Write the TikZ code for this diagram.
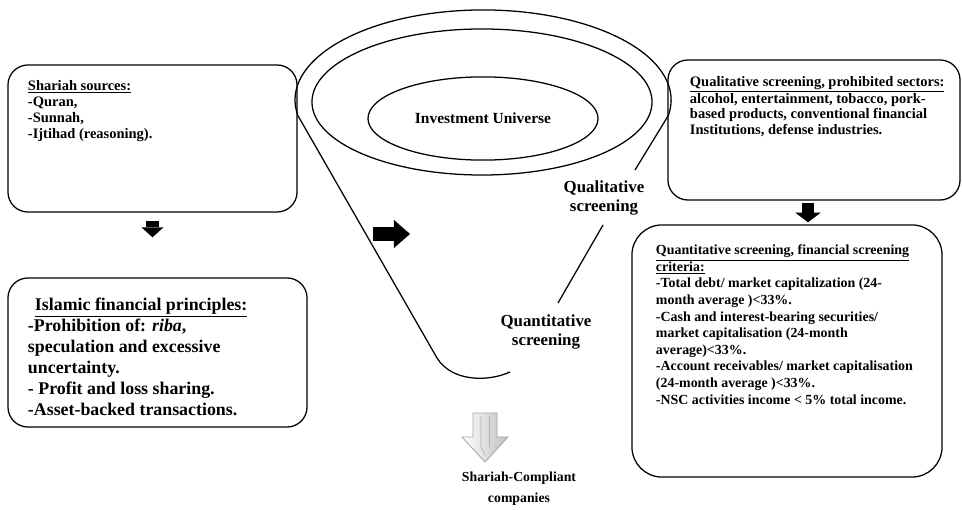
\documentclass[tikz,border=0pt]{standalone}
\usepackage{fontspec}
\setmainfont{Liberation Serif}
\usetikzlibrary{positioning,shapes.geometric,arrows.meta,calc}

\begin{document}
\begin{tikzpicture}[x=0.025cm, y=0.025cm, line width=0.9pt,
    every node/.style={font=\bfseries, inner sep=0pt},
    box/.style={draw, rounded corners=#1},
    box/.default=0.5cm,
    boxtext/.style={align=left},
    fatarrow/.style n args={3}{line width=#1, -{Triangle[width=#2, length=#3, line width=0pt]}},
  ]
  \useasboundingbox (0,0) rectangle (962,-510);

  % the four boxes
  \node[box, minimum width=7.225cm, minimum height=3.675cm] (src) at (152.5,-138.5) {};
  \node[box, minimum width=7.475cm, minimum height=3.725cm] (princ) at (157.5,-352.5) {};
  \node[box, minimum width=7.3cm, minimum height=3.5cm] (qual) at (814,-130) {};
  \node[box=0.75cm, minimum width=7.75cm, minimum height=6.3cm] (quant) at (787,-351) {};

  \node[boxtext, font=\bfseries\fontsize{10.3}{11.5}\selectfont,
        below right=0.375cm and 0.5cm of src.north west] (src txt)
    {\underline{Shariah sources:}\\-Quran,\\-Sunnah,\\-Ijtihad (reasoning).};
  \node[boxtext, font=\bfseries\fontsize{12.7}{14.9}\selectfont,
        below right=0.5cm and 0.5cm of princ.north west] (princ txt)
    {\hspace*{5pt}\underline{Islamic financial principles:}\\
     -Prohibition of: \textit{riba},\\
     speculation and excessive\\
     uncertainty.\\
     - Profit and loss sharing.\\
     -Asset-backed transactions.};
  \node[boxtext, font=\bfseries\fontsize{10.3}{10.9}\selectfont,
        below right=0.4cm and 0.55cm of qual.north west] (qual txt)
    {\underline{Qualitative screening, prohibited sectors:}\\
     alcohol, entertainment, tobacco, pork-\\
     based products, conventional financial\\
     Institutions, defense industries.};
  \node[boxtext, font=\bfseries\fontsize{9.9}{11.8}\selectfont,
        below right=0.5cm and 0.6cm of quant.north west] (quant txt)
    {\underline{Quantitative screening, financial screening}\\
     \underline{criteria:}\\
     -Total debt/ market capitalization (24-\\
     month average )<33\%.\\
     -Cash and interest-bearing securities/\\
     market capitalisation (24-month\\
     average)<33\%.\\
     -Account receivables/ market capitalisation\\
     (24-month average )<33\%.\\
     -NSC activities income < 5\% total income.};

  % funnel
  \coordinate (rimL) at (297.9,-115.6);
  \draw (rimL) arc[start angle=190, end angle=-10, x radius=4.7cm, y radius=2.25cm]
    coordinate (rimR) -- (635,-170);
  \draw (rimL) -- (437,-358) .. controls (452,-382) and (488,-382) .. (510,-372);
  \draw (603,-225) -- (558,-303);
  \draw (482,-102) ellipse [x radius=4.25cm, y radius=1.825cm];
  \node[ellipse, draw, minimum width=5.75cm, minimum height=2.08cm,
        font=\bfseries\fontsize{11}{13}\selectfont] (univ) at (483,-118.5)
    {Investment Universe};

  \node[align=center, font=\bfseries\fontsize{12}{14.2}\selectfont] (qual lbl)
    at (604,-198) {Qualitative\\screening};
  \node[align=center, font=\bfseries\fontsize{12}{14.2}\selectfont] (quant lbl)
    at (546,-332) {Quantitative\\screening};

  % black arrows
  \draw[fatarrow={0.3cm}{0.55cm}{0.25cm}, shorten <=0.2cm, shorten >=1cm]
    (src.south) -- (src.south |- princ.north);
  \coordinate (qs) at ($(qual.south)+(-6,0)$);
  \draw[fatarrow={0.28cm}{0.63cm}{0.24cm}, shorten <=0.07cm, shorten >=0.05cm]
    (qs) -- (qs |- quant.north);
  \coordinate (push) at (373,-234);
  \coordinate (push end) at (410,-234);
  \draw[fatarrow={0.35cm}{0.7cm}{0.4cm}] (push) -- (push end);

  % hollow arrow to the result
  \draw[draw=gray!70, line width=0.6pt, left color=white, right color=gray!50]
    (473,-413) -- (497,-413) -- (497,-437) -- (508,-437) -- (485,-462)
    -- (462,-437) -- (473,-437) -- cycle;
  \draw[gray!60, line width=0.5pt] (481,-416) -- (481,-447) -- (485,-455);
  \draw[gray!60, line width=0.5pt] (489,-416) -- (489,-447);
  \node[align=center, font=\bfseries\fontsize{9.8}{15.2}\selectfont] (result)
    at (519,-489) {Shariah-Compliant\\companies};
\end{tikzpicture}
\end{document}
